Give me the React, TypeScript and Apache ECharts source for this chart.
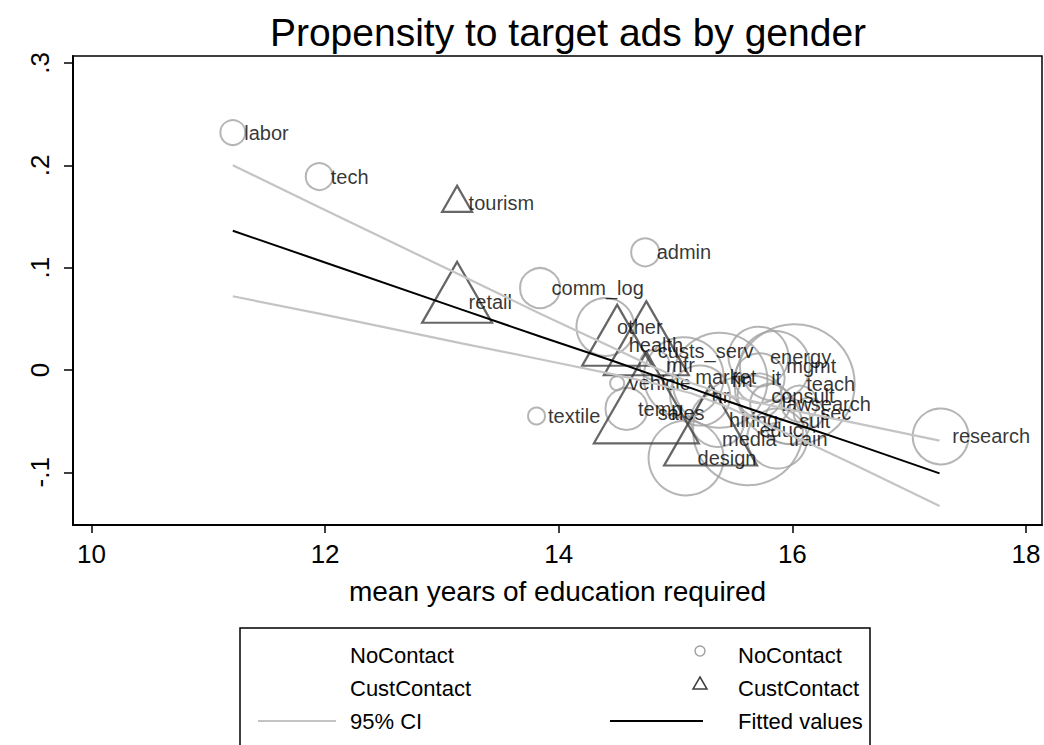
import React, { useEffect, useRef } from "react";
import * as echarts from "echarts";

// ---- Data ----
const noContactLabels = [
  "labor", "tech", "admin", "comm_log", "textile", "research", "other", "vehicle",
  "temp", "mfr", "market", "hr", "fin", "energy", "mgmt", "it", "teach", "consult",
  "law", "search", "sec", "hiring", "suit", "train", "design", "educ",
];
const noContactX = [
  11.21, 11.95, 14.74, 13.84, 13.81, 17.27, 14.40, 14.50,
  14.58, 14.82, 15.07, 15.21, 15.38, 15.71, 15.85, 15.72, 16.02, 15.72,
  15.81, 16.06, 16.14, 15.36, 15.96, 15.87, 15.09, 15.62,
];
const noContactY = [
  0.232, 0.189, 0.115, 0.080, -0.045, -0.065, 0.042, -0.013,
  -0.038, 0.005, -0.007, -0.025, -0.010, 0.013, 0.004, -0.008, -0.014, -0.025,
  -0.033, -0.033, -0.042, -0.049, -0.050, -0.067, -0.086, -0.059,
];
const noContactN = [
  69, 81, 87, 178, 32, 348, 374, 22,
  196, 100, 711, 400, 1003, 400, 544, 278, 1600, 215,
  178, 144, 100, 324, 235, 400, 625, 1344,
];

const custLabels = ["tourism", "retail", "health", "custs_serv", "sales", "media"];
const custX = [13.13, 13.13, 14.50, 14.75, 14.75, 15.30];
const custY = [0.163, 0.066, 0.024, 0.019, -0.042, -0.067];
const custN = [100, 544, 544, 803, 1225, 961];

const fitX = [11.21, 11.95, 13.17, 13.86, 14.46, 14.81, 15.14, 15.46, 15.79, 16.11, 16.5, 17.26];
const fitY = [0.136, 0.107, 0.059, 0.032, 0.009, -0.005, -0.018, -0.031, -0.044, -0.056, -0.071, -0.101];
const ciUpper = [0.200, 0.159, 0.092, 0.054, 0.022, 0.003, -0.013, -0.025, -0.034, -0.042, -0.051, -0.069];
const ciLower = [0.072, 0.055, 0.026, 0.010, -0.004, -0.013, -0.023, -0.037, -0.054, -0.070, -0.091, -0.133];

const xTicks = [10, 12, 14, 16, 18];
const yTicks = [-0.1, 0, 0.1, 0.2, 0.3];
const yTickLabels = ["-.1", "0", ".1", ".2", ".3"];

const titleText = "Propensity to target ads by gender";
const xTitle = "mean years of education required";
const legendItems = ["NoContact", "NoContact", "CustContact", "CustContact", "95% CI", "Fitted values"];

const FONT = "Liberation Sans, Arial, sans-serif";
const CIRCLE_COLOR = "#a3a3a3";
const TRI_COLOR = "#404040";
const CI_COLOR = "#c4c4c4";

export default function App() {
  const ref = useRef<HTMLDivElement>(null);

  useEffect(() => {
    if (!ref.current) return;
    const chart = echarts.init(ref.current, undefined, { renderer: "svg" });

    const circleData = noContactX.map((x, i) => ({
      value: [x, noContactY[i]],
      symbolSize: 3 * Math.sqrt(noContactN[i]),
    }));
    const triData = custX.map((x, i) => {
      const s = 3 * Math.sqrt(custN[i]);
      const h = s * 0.87;
      return { value: [x, custY[i]], symbolSize: [s, h], symbolOffset: [0, -h / 6] };
    });
    const labelData = [
      ...noContactX.map((x, i) => ({ name: noContactLabels[i], value: [x, noContactY[i]] })),
      ...custX.map((x, i) => ({ name: custLabels[i], value: [x, custY[i]] })),
    ];
    const pairs = (ys: number[]) => fitX.map((x, i) => [x, ys[i]]);

    const legendFont = { fontFamily: FONT, fontSize: 22, fill: "#000" };
    const rowY = [655, 688, 721];
    const tickFont = { fontSize: 26, fontFamily: FONT, color: "#000" };

    chart.setOption({
      animation: false,
      backgroundColor: "#fff",
      grid: {
        left: 73, top: 56, width: 969, height: 469,
        show: true, borderColor: "#000", borderWidth: 1.5, backgroundColor: "transparent",
      },
      xAxis: {
        type: "value", min: 9.842, max: 18.137,
        axisLine: { show: true, onZero: false, lineStyle: { color: "#000", width: 2 } },
        axisTick: { show: true, customValues: xTicks, length: 8, lineStyle: { color: "#000", width: 1.5 } },
        axisLabel: { customValues: xTicks, ...tickFont, margin: 16 },
        splitLine: { show: false },
        name: xTitle, nameLocation: "middle", nameGap: 52,
        nameTextStyle: { fontSize: 28, fontFamily: FONT, color: "#000" },
      },
      yAxis: {
        type: "value", min: -0.1515, max: 0.3068,
        axisLine: { show: true, onZero: false, lineStyle: { color: "#000", width: 2 } },
        axisTick: { show: true, customValues: yTicks, length: 9, lineStyle: { color: "#000", width: 1.5 } },
        axisLabel: {
          customValues: yTicks, rotate: 90, ...tickFont, margin: 20,
          formatter: (v: number) => {
            const idx = yTicks.findIndex((t) => Math.abs(t - v) < 1e-6);
            return idx >= 0 ? yTickLabels[idx] : "";
          },
        },
        splitLine: { show: false },
      },
      series: [
        {
          type: "scatter", name: "NoContact", data: circleData, symbol: "circle",
          itemStyle: { color: "rgba(0,0,0,0)", borderColor: CIRCLE_COLOR, borderWidth: 2 },
          emphasis: { disabled: true }, silent: true,
        },
        {
          type: "scatter", name: "CustContact", data: triData, symbol: "triangle",
          itemStyle: { color: "rgba(0,0,0,0)", borderColor: TRI_COLOR, borderWidth: 2.2 },
          emphasis: { disabled: true }, silent: true,
        },
        {
          type: "scatter", name: "labels", data: labelData, symbol: "circle", symbolSize: 1,
          itemStyle: { color: "rgba(0,0,0,0)" },
          label: {
            show: true, position: "right", distance: 11, formatter: "{b}",
            fontSize: 20, fontFamily: FONT, color: "#000",
          },
          emphasis: { disabled: true }, silent: true,
        },
        {
          type: "line", name: "95% CI", data: pairs(ciUpper), showSymbol: false, symbol: "none",
          lineStyle: { color: CI_COLOR, width: 2.2 }, silent: true,
        },
        {
          type: "line", name: "95% CI lower", data: pairs(ciLower), showSymbol: false, symbol: "none",
          lineStyle: { color: CI_COLOR, width: 2.2 }, silent: true,
        },
        {
          type: "line", name: "Fitted values", data: pairs(fitY), showSymbol: false, symbol: "none",
          lineStyle: { color: "#000", width: 2 }, silent: true,
        },
      ],
      graphic: [
        {
          type: "text", x: 568, y: 32,
          style: { text: titleText, align: "center", verticalAlign: "middle", fontFamily: FONT, fontSize: 39, fill: "#000" },
        },
        {
          type: "rect", shape: { x: 240, y: 628, width: 630, height: 140 },
          style: { fill: "#fff", stroke: "#000", lineWidth: 1.5 },
        },
        { type: "text", x: 350, y: rowY[0], style: { ...legendFont, text: legendItems[0], verticalAlign: "middle" } },
        { type: "text", x: 350, y: rowY[1], style: { ...legendFont, text: legendItems[2], verticalAlign: "middle" } },
        { type: "text", x: 350, y: rowY[2], style: { ...legendFont, text: legendItems[4], verticalAlign: "middle" } },
        { type: "line", shape: { x1: 258, y1: rowY[2], x2: 336, y2: rowY[2] }, style: { stroke: CI_COLOR, lineWidth: 2 } },
        { type: "circle", shape: { cx: 700, cy: rowY[0] - 4, r: 5 }, style: { fill: "none", stroke: CIRCLE_COLOR, lineWidth: 1.5 } },
        {
          type: "polygon",
          shape: { points: [[700, rowY[1] - 11], [707, rowY[1] + 1], [693, rowY[1] + 1]] },
          style: { fill: "none", stroke: TRI_COLOR, lineWidth: 1.5 },
        },
        { type: "line", shape: { x1: 610, y1: rowY[2], x2: 703, y2: rowY[2] }, style: { stroke: "#000", lineWidth: 2 } },
        { type: "text", x: 738, y: rowY[0], style: { ...legendFont, text: legendItems[1], verticalAlign: "middle" } },
        { type: "text", x: 738, y: rowY[1], style: { ...legendFont, text: legendItems[3], verticalAlign: "middle" } },
        { type: "text", x: 738, y: rowY[2], style: { ...legendFont, text: legendItems[5], verticalAlign: "middle" } },
      ],
    });

    return () => chart.dispose();
  }, []);

  return (
    <div
      ref={ref}
      style={{ position: "absolute", left: 0, top: 0, width: 1044, height: 745, background: "#fff" }}
    />
  );
}
